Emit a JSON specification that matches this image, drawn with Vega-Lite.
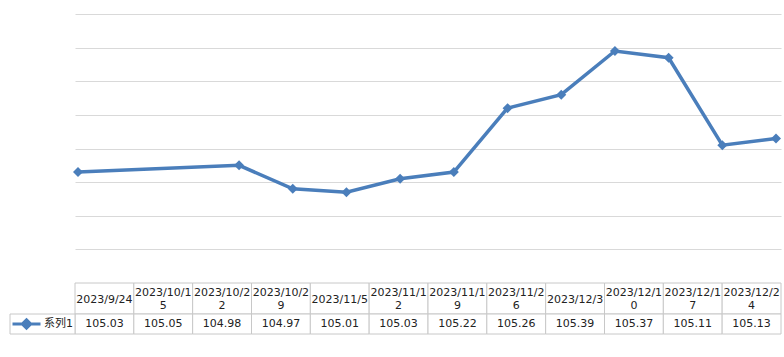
{
  "$schema": "https://vega.github.io/schema/vega-lite/v6.json",
  "width": 706,
  "height": 269,
  "autosize": {"type": "none"},
  "padding": {"left": 75, "top": 14, "right": 3, "bottom": 74},
  "background": "white",
  "config": {"view": {"stroke": null}, "font": "DejaVu Sans, Noto Sans CJK SC"},
  "data": {
    "values": [
      {"date": "2023-09-24", "label": "2023/9/24", "value": 105.03},
      {"date": "2023-10-15", "label": "2023/10/1\n5", "value": 105.05},
      {"date": "2023-10-22", "label": "2023/10/2\n2", "value": 104.98},
      {"date": "2023-10-29", "label": "2023/10/2\n9", "value": 104.97},
      {"date": "2023-11-05", "label": "2023/11/5", "value": 105.01},
      {"date": "2023-11-12", "label": "2023/11/1\n2", "value": 105.03},
      {"date": "2023-11-19", "label": "2023/11/1\n9", "value": 105.22},
      {"date": "2023-11-26", "label": "2023/11/2\n6", "value": 105.26},
      {"date": "2023-12-03", "label": "2023/12/3", "value": 105.39},
      {"date": "2023-12-10", "label": "2023/12/1\n0", "value": 105.37},
      {"date": "2023-12-17", "label": "2023/12/1\n7", "value": 105.11},
      {"date": "2023-12-24", "label": "2023/12/2\n4", "value": 105.13}
    ]
  },
  "resolve": {"scale": {"x": "independent", "y": "independent"}},
  "layer": [
    {
      "mark": {"type": "line", "color": "#4a7ebb", "strokeWidth": 3.5},
      "encoding": {
        "x": {"field": "date", "type": "temporal", "axis": null,
          "scale": {"type": "utc", "domain": [
            {"year": 2023, "month": 9, "date": 23, "hours": 14, "minutes": 36, "utc": true},
            {"year": 2023, "month": 12, "date": 24, "hours": 15, "minutes": 40, "utc": true}]}},
        "y": {"field": "value", "type": "quantitative",
          "scale": {"domain": [104.7, 105.5], "nice": false, "zero": false},
          "axis": {"values": [104.8, 104.9, 105.0, 105.1, 105.2, 105.3, 105.4, 105.5], "grid": true, "gridColor": "#d9d9d9", "gridWidth": 1, "labels": false, "ticks": false, "domain": false, "title": null}}
      }
    },
    {
      "mark": {"type": "point", "shape": "diamond", "filled": true, "size": 100, "color": "#4a7ebb", "opacity": 1},
      "encoding": {
        "x": {"field": "date", "type": "temporal", "axis": null,
          "scale": {"type": "utc", "domain": [
            {"year": 2023, "month": 9, "date": 23, "hours": 14, "minutes": 36, "utc": true},
            {"year": 2023, "month": 12, "date": 24, "hours": 15, "minutes": 40, "utc": true}]}},
        "y": {"field": "value", "type": "quantitative", "axis": null,
          "scale": {"domain": [104.7, 105.5], "nice": false, "zero": false}}
      }
    },
    {
      "mark": {"type": "rect", "fill": "white", "stroke": "#c8c8c8", "strokeWidth": 1},
      "encoding": {
        "x": {"field": "label", "type": "nominal", "sort": null, "axis": null, "scale": {"paddingInner": 0, "paddingOuter": 0}},
        "y": {"datum": "header", "type": "nominal", "axis": null, "scale": {"range": [269, 300], "paddingInner": 0, "paddingOuter": 0}}
      }
    },
    {
      "transform": [{"filter": "indexof(datum.label, '\\n') < 0"}],
      "mark": {"type": "text", "fontSize": 11, "color": "#222222", "baseline": "middle", "align": "center", "dy": 1},
      "encoding": {
        "x": {"field": "label", "type": "nominal", "sort": null, "axis": null, "scale": {"domain": ["2023/9/24", "2023/10/1\n5", "2023/10/2\n2", "2023/10/2\n9", "2023/11/5", "2023/11/1\n2", "2023/11/1\n9", "2023/11/2\n6", "2023/12/3", "2023/12/1\n0", "2023/12/1\n7", "2023/12/2\n4"], "paddingInner": 0, "paddingOuter": 0}},
        "y": {"datum": "header", "type": "nominal", "axis": null, "scale": {"range": [269, 300], "paddingInner": 0, "paddingOuter": 0}},
        "text": {"field": "label"}
      }
    },
    {
      "transform": [{"filter": "indexof(datum.label, '\\n') >= 0"}],
      "mark": {"type": "text", "lineBreak": "\n", "lineHeight": 13, "fontSize": 11, "color": "#222222", "baseline": "middle", "align": "center", "dy": -6},
      "encoding": {
        "x": {"field": "label", "type": "nominal", "sort": null, "axis": null, "scale": {"domain": ["2023/9/24", "2023/10/1\n5", "2023/10/2\n2", "2023/10/2\n9", "2023/11/5", "2023/11/1\n2", "2023/11/1\n9", "2023/11/2\n6", "2023/12/3", "2023/12/1\n0", "2023/12/1\n7", "2023/12/2\n4"], "paddingInner": 0, "paddingOuter": 0}},
        "y": {"datum": "header", "type": "nominal", "axis": null, "scale": {"range": [269, 300], "paddingInner": 0, "paddingOuter": 0}},
        "text": {"field": "label"}
      }
    },
    {
      "mark": {"type": "rect", "fill": "white", "stroke": "#c8c8c8", "strokeWidth": 1},
      "encoding": {
        "x": {"field": "label", "type": "nominal", "sort": null, "axis": null, "scale": {"paddingInner": 0, "paddingOuter": 0}},
        "y": {"datum": "value", "type": "nominal", "axis": null, "scale": {"range": [300, 320], "paddingInner": 0, "paddingOuter": 0}}
      }
    },
    {
      "mark": {"type": "text", "fontSize": 11, "color": "#222222", "baseline": "middle", "align": "center"},
      "encoding": {
        "x": {"field": "label", "type": "nominal", "sort": null, "axis": null, "scale": {"paddingInner": 0, "paddingOuter": 0}},
        "y": {"datum": "value", "type": "nominal", "axis": null, "scale": {"range": [300, 320], "paddingInner": 0, "paddingOuter": 0}},
        "text": {"field": "value", "type": "quantitative", "format": ".2f"}
      }
    },
    {
      "data": {"values": [{"series": "系列1"}]},
      "mark": {"type": "rect", "fill": "white", "stroke": "#c8c8c8", "strokeWidth": 1},
      "encoding": {
        "x": {"field": "series", "type": "nominal", "axis": null, "scale": {"range": [-65, 0], "paddingInner": 0, "paddingOuter": 0}},
        "y": {"datum": "value", "type": "nominal", "axis": null, "scale": {"range": [300, 320], "paddingInner": 0, "paddingOuter": 0}}
      }
    },
    {
      "data": {"values": [{"series": "系列1"}]},
      "mark": {"type": "point", "shape": "M-1,0H1M0,-0.3L0.3,0L0,0.3L-0.3,0Z", "size": 784, "filled": true, "color": "#4a7ebb", "stroke": "#4a7ebb", "strokeWidth": 3, "opacity": 1},
      "encoding": {
        "x": {"field": "series", "type": "nominal", "axis": null, "scale": {"range": [-64, -33], "paddingInner": 0, "paddingOuter": 0}},
        "y": {"datum": "value", "type": "nominal", "axis": null, "scale": {"range": [300, 320], "paddingInner": 0, "paddingOuter": 0}}
      }
    },
    {
      "data": {"values": [{"series": "系列1"}]},
      "mark": {"type": "text", "fontSize": 11, "color": "#222222", "baseline": "middle", "align": "center"},
      "encoding": {
        "x": {"field": "series", "type": "nominal", "axis": null, "scale": {"range": [-33, 0], "paddingInner": 0, "paddingOuter": 0}},
        "y": {"datum": "value", "type": "nominal", "axis": null, "scale": {"range": [300, 320], "paddingInner": 0, "paddingOuter": 0}},
        "text": {"field": "series"}
      }
    }
  ]
}
